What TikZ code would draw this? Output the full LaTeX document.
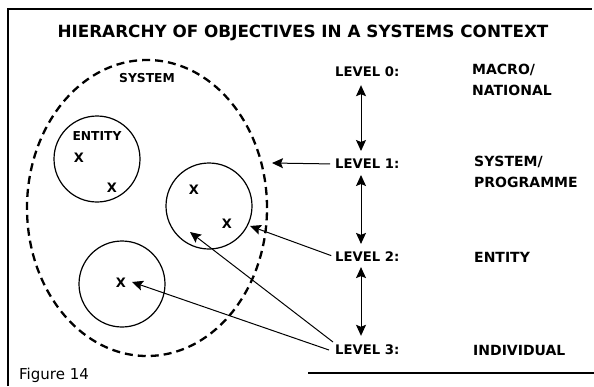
\documentclass[tikz,border=0pt]{standalone}
\usepackage{fontspec}
\setmainfont{DejaVu Sans}
\usetikzlibrary{arrows.meta,shapes.geometric}
\begin{document}
\begin{tikzpicture}[x=1pt,y=-1pt,
  titlefont/.style={font=\bfseries\fontsize{16.8}{17}\selectfont, inner sep=0pt},
  lbl/.style={font=\bfseries\fontsize{13.2}{13}\selectfont, inner sep=0pt, anchor=west},
  rlbl/.style={font=\bfseries\fontsize{14}{21}\selectfont, inner sep=0pt, anchor=west, align=left},
  small/.style={font=\bfseries\fontsize{12.3}{12}\selectfont, inner sep=0pt},
  xmark/.style={font=\bfseries\fontsize{13}{13}\selectfont, inner sep=0pt},
  circ/.style={draw, circle, line width=1.2pt, minimum size=86pt, inner sep=0pt},
  tipend/.style={-{Stealth[length=11pt,width=10pt,inset=2pt]}, line width=1pt},
  dbl/.style={{Stealth[length=11pt,width=10pt,inset=2pt]}-{Stealth[length=11pt,width=10pt,inset=2pt]}, line width=1pt}
]
\useasboundingbox (0,0) rectangle (594,386);
% frame
\draw[line width=2.2pt] (8,386) -- (8,9) -- (592,9);
\draw[line width=1.6pt] (308,373) -- (594,373);

\node[titlefont] (title) at (303,33) {HIERARCHY OF OBJECTIVES IN A SYSTEMS CONTEXT};

% system ellipse
\node[draw, ellipse, minimum width=240pt, minimum height=296pt, line width=2.3pt,
      dash pattern=on 8pt off 5pt, inner sep=0pt] (sys) at (147,208) {};
\node[small] (systxt) at (147,78) {SYSTEM};

% entities
\node[circ] (e1) at (97,159) {};
\node[circ] (e2) at (209,206) {};
\node[circ] (e3) at (122,284) {};
\node[small] (enttxt) at (97,136) {ENTITY};
\node[xmark] (x1) at (79,158) {X};
\node[xmark] (x2) at (112,188) {X};
\node[xmark] (x3) at (194,190) {X};
\node[xmark] (x4) at (227,224) {X};
\node[xmark] (x5) at (121,283) {X};

% levels
\node[lbl] (l0) at (335,72) {LEVEL 0:};
\node[lbl] (l1) at (335,164) {LEVEL 1:};
\node[lbl] (l2) at (335,257) {LEVEL 2:};
\node[lbl] (l3) at (335,350) {LEVEL 3:};

\node[rlbl] (r0) at (472,80) {MACRO/\\NATIONAL};
\node[rlbl] (r1) at (474,172) {SYSTEM/\\PROGRAMME};
\node[rlbl] (r2) at (474,257) {ENTITY};
\node[rlbl] (r3) at (473,350) {INDIVIDUAL};

\node[font=\fontsize{15}{15}\selectfont, inner sep=0pt, anchor=west] (fig) at (19,375) {Figure 14};

% vertical double arrows
\coordinate (vx) at (361,0);
\draw[dbl, shorten <=8pt, shorten >=8pt] (l0.south -| vx) -- (l1.north -| vx);
\draw[dbl, shorten <=6pt, shorten >=8pt] (l1.south -| vx) -- (l2.north -| vx);
\draw[dbl, shorten <=5pt, shorten >=9pt] (l2.south -| vx) -- (l3.north -| vx);

% pointers
\coordinate (t1) at (272,163);
\coordinate (t2) at (250,226);
\coordinate (t3a) at (190,232);
\coordinate (t3b) at (132,282);
\draw[tipend, shorten <=5pt] (l1.west) -- (t1);
\draw[tipend, shorten <=4pt] (l2.west) -- (t2);
\draw[tipend] ([shift={(-2,-8)}]l3.west) -- (t3a);
\draw[tipend] ([shift={(-6,0)}]l3.west) -- (t3b);
\end{tikzpicture}
\end{document}
